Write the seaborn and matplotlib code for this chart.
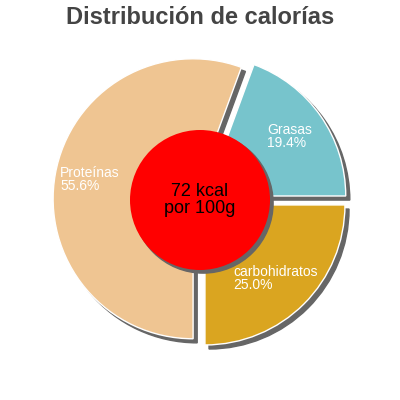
import matplotlib
matplotlib.use("Agg")
import matplotlib.pyplot as plt
from matplotlib.patches import Circle, Shadow
import seaborn as sns

# chart data
categories = ["carbohidratos", "Grasas", "Proteínas"]
values = [25.0, 19.4, 55.6]
colors = ["#daa520", "#77c4cc", "#efc592"]
center_text = "72 kcal\npor 100g"
title = "Distribución de calorías"

sns.set_theme(style="white")
plt.rcParams['font.family'] = ['Liberation Sans', 'DejaVu Sans']

fig = plt.figure(figsize=(4, 4), dpi=100)
ax = fig.add_axes([0, 0, 1, 1])

# Shadow offsets are data units scaled by dpi/72
shadow_style = {'ox': 0.021, 'oy': -0.021, 'facecolor': '#666666',
                'edgecolor': '#666666', 'alpha': 1.0}
wedges, _ = ax.pie(values, colors=sns.color_palette(colors), startangle=-90,
                   counterclock=True, explode=[0.05, 0.05, 0.05],
                   shadow=shadow_style, radius=1.0)

# center circle with its own shadow
circ = Circle((0, 0), 0.5, facecolor="#ff0000", edgecolor="none", zorder=5)
sh = Shadow(circ, 0.016, -0.016, facecolor='#666666', edgecolor='#666666', alpha=1.0)
sh.set_zorder(4)
ax.add_patch(sh)
ax.add_patch(circ)
ax.text(0, 0, center_text, ha="center", va="center", fontsize=13,
        color="black", linespacing=1.0, zorder=6)

# slice labels
label_pos = {"Grasas": (0.48, 0.455), "carbohidratos": (0.236, -0.56),
             "Proteínas": (-1.0, 0.145)}
for cat, v in zip(categories, values):
    x, y = label_pos[cat]
    ax.text(x, y, f"{cat}\n{v:.1f}%", ha="left", va="center", fontsize=10,
            color="white", linespacing=0.95, zorder=6)

lim = 200 / 140
ax.set_xlim(-lim, lim)
ax.set_ylim(-lim, lim)
ax.set_aspect("equal")
ax.axis("off")

fig.text(0.5, 0.955, title, ha="center", va="center", fontsize=17,
         fontweight="bold", color="#444444")

fig.savefig("out.png", dpi=100)
